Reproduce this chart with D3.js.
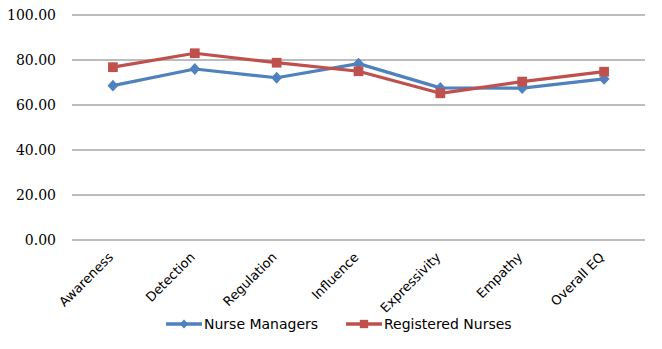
<!DOCTYPE html>
<html><head><meta charset="utf-8">
<script src="https://cdn.jsdelivr.net/npm/d3@7"></script>
<style>body{margin:0;background:#fff}svg{display:block}</style>
</head><body>
<script>
const categories = ["Awareness","Detection","Regulation","Influence","Expressivity","Empathy","Overall EQ"];
const nurseManagers = [68.6, 76.0, 72.1, 78.4, 67.6, 67.5, 71.6];
const registeredNurses = [76.8, 83.0, 78.8, 75.0, 65.2, 70.4, 74.8];
const yTicks = [0, 20, 40, 60, 80, 100];
const seriesNames = ["Nurse Managers", "Registered Nurses"];

const W = 662, H = 349;
const svg = d3.select("body").append("svg").attr("width", W).attr("height", H);
const x = d3.scaleBand().domain(categories).range([72, 645]);
const y = d3.scaleLinear().domain([0, 100]).range([240, 15]);

// gridlines
svg.append("g").selectAll("line").data(yTicks).join("line")
  .attr("x1", 72).attr("x2", 645)
  .attr("y1", d => y(d)).attr("y2", d => y(d))
  .attr("stroke", "#a6a6a6").attr("stroke-width", 1.5);

// y axis labels
const yAxis = d3.axisLeft(y).tickValues(yTicks).tickFormat(d3.format(".2f")).tickSize(0).tickPadding(16);
const ya = svg.append("g").attr("transform", "translate(72,0)").call(yAxis);
ya.attr("font-family", null).attr("font-size", null);
ya.select(".domain").remove();
ya.selectAll("text").style("font-family", "'DejaVu Serif', serif").style("font-size", "14px").attr("fill", "#000");

// x axis labels
const xAxis = d3.axisBottom(x).tickSize(0).tickPadding(0);
const xa = svg.append("g").attr("transform", "translate(0,240)").call(xAxis);
xa.attr("font-family", null).attr("font-size", null);
xa.select(".domain").remove();
xa.selectAll("text")
  .style("font-family", "'DejaVu Sans', sans-serif").style("font-size", "13px").attr("fill", "#000")
  .attr("text-anchor", "end").attr("dy", 0)
  .attr("transform", "translate(1,18) rotate(-45)");

const cx = d => x(d) + x.bandwidth() / 2;
const colors = ["#4f81bd", "#c0504d"];
const data = [nurseManagers, registeredNurses];
const line = d3.line().x((d, i) => cx(categories[i])).y(d => y(d));
const diamond = d3.symbol().type(d3.symbolDiamond2).size(75);
const square = d3.symbol().type(d3.symbolSquare).size(95);

data.forEach((vals, k) => {
  svg.append("path").datum(vals).attr("d", line)
    .attr("fill", "none").attr("stroke", colors[k]).attr("stroke-width", 3.2).attr("stroke-linejoin", "round");
  svg.append("g").selectAll("path").data(vals).join("path")
    .attr("transform", (d, i) => `translate(${cx(categories[i])},${y(d)})${k === 0 ? " scale(1,1.1)" : ""}`)
    .attr("d", k === 0 ? diamond : square)
    .attr("fill", colors[k]);
});

// legend
const legendItems = [{x: 166, name: seriesNames[0]}, {x: 346, name: seriesNames[1]}];
legendItems.forEach((it, k) => {
  const g = svg.append("g").attr("transform", `translate(${it.x},324)`);
  g.append("line").attr("x1", 0).attr("x2", 36).attr("stroke", colors[k]).attr("stroke-width", 3.5);
  g.append("path").attr("transform", "translate(18,0)")
    .attr("d", k === 0 ? d3.symbol().type(d3.symbolDiamond2).size(50)() : d3.symbol().type(d3.symbolSquare).size(70)())
    .attr("fill", colors[k]);
  g.append("text").attr("x", 38).attr("y", 5).text(it.name)
    .style("font-family", "'DejaVu Sans', sans-serif").style("font-size", "14px").attr("fill", "#000");
});
</script>
</body></html>
